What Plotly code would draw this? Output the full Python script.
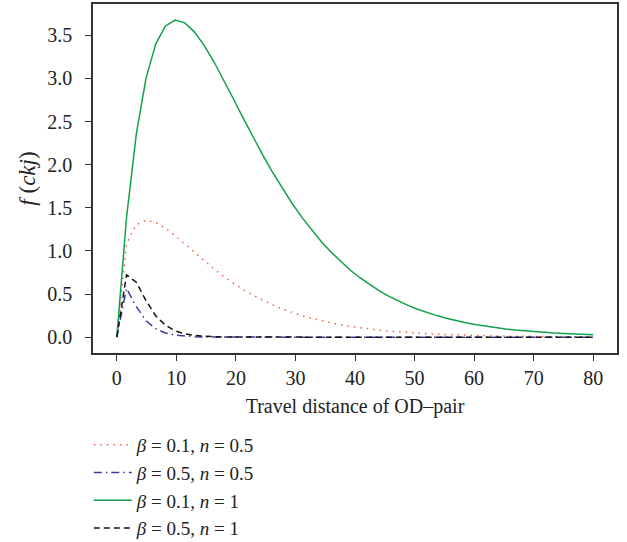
import plotly.graph_objects as go

# Travel distance samples
distance = [0.0, 1.63, 3.27, 4.90, 6.53, 8.16, 9.80, 11.43, 13.06, 14.69,
            16.33, 17.96, 19.59, 21.22, 22.86, 24.49, 26.12, 27.76, 29.39, 31.02,
            32.65, 34.29, 35.92, 37.55, 39.18, 40.82, 42.45, 44.08, 45.71, 47.35,
            48.98, 50.61, 52.24, 53.88, 55.51, 57.14, 58.78, 60.41, 62.04, 63.67,
            65.31, 66.94, 68.57, 70.20, 71.84, 73.47, 75.10, 76.73, 78.37, 80.0]

f_b01_n05 = [0.0, 1.085, 1.303, 1.356, 1.330, 1.263, 1.175, 1.078, 0.979, 0.882,
             0.790, 0.703, 0.624, 0.552, 0.486, 0.427, 0.375, 0.328, 0.287, 0.250,
             0.218, 0.190, 0.165, 0.143, 0.124, 0.108, 0.0935, 0.0809, 0.0700, 0.0605,
             0.0523, 0.0451, 0.0389, 0.0336, 0.0290, 0.0250, 0.0215, 0.0185, 0.0159, 0.0137,
             0.0118, 0.0101, 0.0087, 0.0075, 0.0065, 0.0055, 0.0047, 0.0041, 0.0035, 0.0030]

f_b05_n05 = [0.0, 0.565, 0.353, 0.191, 0.0976, 0.0482, 0.0234, 0.0112, 0.0053, 0.0025,
             0.0012, 0.0005, 0.0002, 0.0001, 0.0, 0.0, 0.0, 0.0, 0.0, 0.0,
             0.0, 0.0, 0.0, 0.0, 0.0, 0.0, 0.0, 0.0, 0.0, 0.0,
             0.0, 0.0, 0.0, 0.0, 0.0, 0.0, 0.0, 0.0, 0.0, 0.0,
             0.0, 0.0, 0.0, 0.0, 0.0, 0.0, 0.0, 0.0, 0.0, 0.0]

f_b01_n1 = [0.0, 1.387, 2.355, 3.001, 3.399, 3.609, 3.678, 3.645, 3.538, 3.381,
            3.191, 2.981, 2.762, 2.541, 2.324, 2.115, 1.917, 1.730, 1.556, 1.395,
            1.247, 1.112, 0.990, 0.879, 0.779, 0.689, 0.609, 0.537, 0.473, 0.416,
            0.366, 0.321, 0.281, 0.247, 0.216, 0.189, 0.165, 0.144, 0.125, 0.109,
            0.095, 0.083, 0.072, 0.063, 0.055, 0.047, 0.041, 0.036, 0.031, 0.027]

f_b05_n1 = [0.0, 0.722, 0.638, 0.423, 0.249, 0.138, 0.0732, 0.0377, 0.0191, 0.0095,
            0.0047, 0.0023, 0.0011, 0.0005, 0.0002, 0.0001, 0.0, 0.0, 0.0, 0.0,
            0.0, 0.0, 0.0, 0.0, 0.0, 0.0, 0.0, 0.0, 0.0, 0.0,
            0.0, 0.0, 0.0, 0.0, 0.0, 0.0, 0.0, 0.0, 0.0, 0.0,
            0.0, 0.0, 0.0, 0.0, 0.0, 0.0, 0.0, 0.0, 0.0, 0.0]

series_names = ["<i>β</i> = 0.1, <i>n</i> = 0.5",
                "<i>β</i> = 0.5, <i>n</i> = 0.5",
                "<i>β</i> = 0.1, <i>n</i> = 1",
                "<i>β</i> = 0.5, <i>n</i> = 1"]

x_ticks = [0, 10, 20, 30, 40, 50, 60, 70, 80]
y_ticks = [0.0, 0.5, 1.0, 1.5, 2.0, 2.5, 3.0, 3.5]

FONT = "Liberation Serif"
FS = 20

fig = go.Figure()
styles = [
    (f_b01_n05, "#f0604a", "1.5px,5px"),
    (f_b05_n05, "#3b3b9c", "8px,4px,1.5px,4px"),
    (f_b01_n1, "#12a04a", "solid"),
    (f_b05_n1, "#111111", "6px,4px"),
]
for (vals, color, dash), name in zip(styles, series_names):
    fig.add_trace(go.Scatter(x=distance, y=vals, mode="lines", name=name,
                             line=dict(color=color, width=1.5, dash=dash)))

axis_common = dict(showline=True, linecolor="#333333", linewidth=1.5, mirror=True,
                   ticks="outside", ticklen=6, tickwidth=1.2, tickcolor="#333333",
                   showgrid=False, zeroline=False,
                   tickfont=dict(family=FONT, size=FS, color="#222222"))

fig.update_layout(
    width=627, height=542,
    margin=dict(l=93, r=10, t=2, b=189),
    paper_bgcolor="white", plot_bgcolor="white",
    font=dict(family=FONT, size=FS, color="#222222"),
    xaxis=dict(range=[-4, 84], tickvals=x_ticks, ticklabelstandoff=0,
               title=dict(text="Travel distance of OD–pair", font=dict(family=FONT, size=FS), standoff=11),
               **axis_common),
    yaxis=dict(range=[-0.184, 3.864], tickvals=y_ticks, tickformat=".1f", ticklabelstandoff=9,
               title=dict(text="<i>f</i> (<i>ckj</i>)", font=dict(family=FONT, size=23), standoff=5),
               **axis_common),
    legend=dict(x=-0.008, xanchor="left", yref="container", y=0.214, yanchor="top",
                bgcolor="rgba(0,0,0,0)", font=dict(family=FONT, size=19),
                itemwidth=38),
    showlegend=True,
)

fig.write_html("out.html")
